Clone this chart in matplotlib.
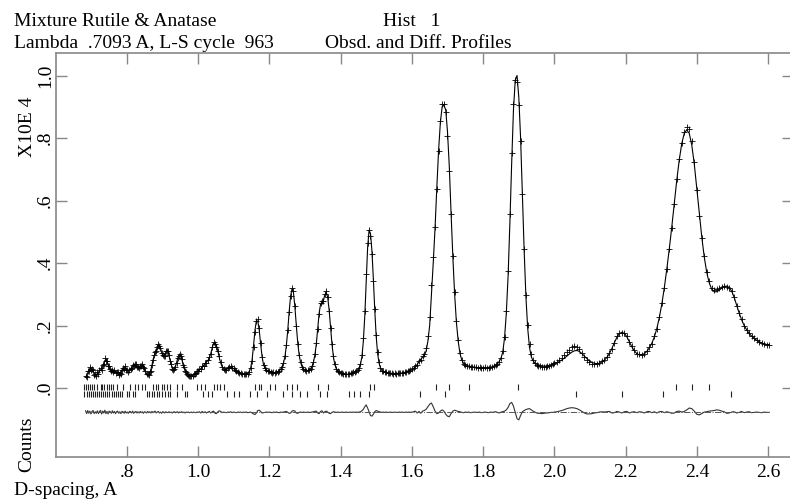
import numpy as np
import matplotlib
matplotlib.use("Agg")
import matplotlib.pyplot as plt
from matplotlib.ticker import FuncFormatter

plt.rcParams['font.family'] = ['Liberation Serif', 'DejaVu Serif']

# profile points, in four pieces (d-spacing, A)
d1 = [0.685, 0.688, 0.691, 0.694, 0.697, 0.700, 0.703, 0.706, 0.709, 0.712,
      0.715, 0.718, 0.721, 0.724, 0.727, 0.730, 0.733, 0.736, 0.739, 0.742,
      0.745, 0.748, 0.751, 0.754, 0.757, 0.760, 0.763, 0.766, 0.769, 0.772,
      0.775, 0.778, 0.781, 0.784, 0.787, 0.790, 0.793, 0.796, 0.799, 0.802,
      0.805, 0.808, 0.811, 0.814, 0.817, 0.820, 0.823, 0.826, 0.829, 0.832,
      0.835, 0.838, 0.841, 0.844, 0.847, 0.850, 0.853, 0.856, 0.859, 0.862,
      0.865, 0.868, 0.871, 0.874, 0.877, 0.880, 0.883, 0.886, 0.889, 0.892,
      0.895, 0.898, 0.901, 0.904, 0.907, 0.910, 0.913, 0.916, 0.919, 0.922,
      0.925, 0.928, 0.931, 0.934, 0.937, 0.940, 0.943, 0.946, 0.949, 0.952,
      0.955, 0.958, 0.961, 0.964, 0.967, 0.970, 0.973, 0.976, 0.979, 0.982,
      0.985, 0.988, 0.991, 0.994, 0.997, 1.000]
calc1 = [.035, .040, .049, .057, .062, .062, .058, .053, .047, .043,
         .042, .045, .049, .054, .058, .062, .069, .078, .088, .091,
         .085, .074, .066, .060, .056, .052, .054, .055, .053, .050,
         .048, .046, .046, .050, .056, .062, .065, .065, .061, .057,
         .055, .056, .060, .066, .070, .072, .075, .074, .068, .065,
         .065, .069, .073, .075, .070, .062, .053, .046, .042, .043,
         .048, .058, .072, .090, .103, .112, .122, .131, .138, .136,
         .128, .115, .105, .101, .106, .115, .120, .118, .104, .088,
         .075, .064, .058, .060, .068, .080, .094, .103, .107, .103,
         .092, .076, .065, .057, .050, .045, .042, .040, .038, .038,
         .040, .043, .046, .049, .052, .055]
diff1 = [.005, -.004, .006, -.003, .004, -.005, .003, .006, -.004, .002,
         -.003, .005, -.004, .003, .006, -.005, .004, -.002, .007, -.004,
         .003, -.005, .004, .002, -.003, .005, -.002, .003, -.004, .002,
         .004, -.003, .002, -.004, .003, .002, -.003, .004, -.002, .001,
         -.003, .003, .002, -.002, .004, -.003, .001, .003, -.002, .002,
         -.002, .003, -.001, .002, -.003, .002, .001, -.002, .003, -.001,
         .002, -.002, .003, -.001, .002, .004, -.002, .001, .003, -.002,
         .001, -.003, .002, .001, -.002, .002, .000, -.001, .002, -.001,
         .001, -.002, .001, .002, -.001, .001, .002, -.002, .001, .000,
         .002, -.001, .001, -.002, .001, .000, .001, -.001, .000, .001,
         -.001, .001, .000, -.001, .001, .000]

d2 = [1.004, 1.008, 1.012, 1.016, 1.020, 1.024, 1.028, 1.032, 1.036, 1.040,
      1.044, 1.048, 1.052, 1.056, 1.060, 1.064, 1.068, 1.072, 1.076, 1.080,
      1.084, 1.088, 1.092, 1.096, 1.100, 1.104, 1.108, 1.112, 1.116, 1.120,
      1.124, 1.128, 1.132, 1.136, 1.140, 1.144, 1.148, 1.152, 1.156, 1.160,
      1.164, 1.168, 1.172, 1.176, 1.180, 1.184, 1.188, 1.192, 1.196, 1.200,
      1.204, 1.208, 1.212, 1.216, 1.220, 1.224, 1.228, 1.232, 1.236, 1.240,
      1.244, 1.248, 1.252, 1.256, 1.260, 1.264, 1.268, 1.272, 1.276, 1.280,
      1.284, 1.288, 1.292, 1.296, 1.300, 1.304, 1.308, 1.312, 1.316, 1.320,
      1.324, 1.328, 1.332, 1.336, 1.340, 1.344, 1.348, 1.352, 1.356, 1.360,
      1.364, 1.368, 1.372, 1.376, 1.380, 1.384, 1.388, 1.392, 1.396, 1.400,
      1.404, 1.408, 1.412, 1.416, 1.420, 1.424, 1.428, 1.432, 1.436, 1.440,
      1.444, 1.448, 1.452, 1.456, 1.460, 1.464, 1.468, 1.472, 1.476, 1.480,
      1.484, 1.488, 1.492, 1.496, 1.500, 1.504, 1.508, 1.512, 1.516, 1.520,
      1.524, 1.528, 1.532, 1.536, 1.540, 1.544, 1.548, 1.552, 1.556, 1.560,
      1.564, 1.568, 1.572, 1.576, 1.580, 1.584, 1.588, 1.592, 1.596, 1.600]
calc2 = [.058, .062, .067, .073, .078, .083, .088, .096, .110, .128,
         .143, .145, .136, .118, .097, .080, .068, .061, .059, .060,
         .063, .066, .067, .066, .062, .058, .054, .051, .049, .047,
         .046, .045, .045, .045, .047, .052, .064, .090, .135, .185,
         .215, .214, .185, .140, .100, .075, .064, .058, .055, .053,
         .051, .050, .049, .049, .050, .052, .055, .060, .068, .080,
         .100, .135, .185, .245, .295, .317, .305, .260, .200, .145,
         .105, .082, .068, .061, .058, .056, .056, .058, .062, .069,
         .082, .105, .140, .190, .240, .268, .272, .280, .298, .305,
         .290, .250, .195, .140, .100, .075, .062, .055, .051, .048,
         .046, .045, .044, .044, .044, .045, .046, .047, .049, .051,
         .054, .058, .064, .076, .100, .150, .230, .340, .450, .505,
         .495, .440, .350, .250, .165, .110, .080, .064, .056, .052,
         .050, .049, .048, .047, .047, .047, .046, .046, .046, .047,
         .047, .048, .048, .049, .050, .051, .053, .055, .058, .061]
diff2 = [.002, -.002, .003, -.001, .002, -.002, .001, .003, -.002, .002,
         .004, -.003, -.004, .002, .005, .003, -.001, .001, .000, -.001,
         .001, .000, .002, -.001, .001, .000, -.001, .001, .000, .001,
         -.001, .001, .000, .001, -.001, .000, .001, -.002, -.005, -.007,
         -.002, .006, .007, .003, -.002, -.001, .000, .001, .000, .001,
         .000, -.001, .001, .000, .001, .000, -.001, .001, .000, .001,
         .002, .003, .000, -.003, -.002, .004, .006, .004, -.002, -.003,
         .000, .001, .000, .001, .000, .000, .001, .000, .000, .001,
         .002, .003, .004, -.002, -.004, .003, .005, -.002, .002, .004,
         .001, -.003, -.004, .000, .002, .001, .000, .001, .000, .000,
         .001, .000, .000, .001, .000, .000, .001, .000, .001, .000,
         .001, .000, .001, .002, .005, .010, .018, .024, .014, .002,
         -.010, -.012, -.006, .002, .006, .004, .002, .001, .000, .001,
         .000, .001, .000, .000, .001, .000, .000, .001, .000, .000,
         .001, .000, .001, .000, .000, .001, .000, .001, .000, .001]

d3 = [1.605, 1.610, 1.615, 1.620, 1.625, 1.630, 1.635, 1.640, 1.645, 1.650,
      1.655, 1.660, 1.665, 1.670, 1.675, 1.680, 1.685, 1.690, 1.695, 1.700,
      1.705, 1.710, 1.715, 1.720, 1.725, 1.730, 1.735, 1.740, 1.745, 1.750,
      1.755, 1.760, 1.765, 1.770, 1.775, 1.780, 1.785, 1.790, 1.795, 1.800,
      1.805, 1.810, 1.815, 1.820, 1.825, 1.830, 1.835, 1.840, 1.845, 1.850,
      1.855, 1.860, 1.865, 1.870, 1.875, 1.880, 1.885, 1.890, 1.895, 1.900,
      1.905, 1.910, 1.915, 1.920, 1.925, 1.930, 1.935, 1.940, 1.945, 1.950,
      1.955, 1.960, 1.965, 1.970, 1.975, 1.980, 1.985, 1.990, 1.995, 2.000]
calc3 = [.063, .068, .075, .084, .092, .098, .104, .118, .150, .200,
         .300, .400, .510, .640, .760, .850, .900, .905, .890, .820,
         .710, .560, .420, .300, .210, .150, .110, .090, .079, .072,
         .070, .070, .069, .068, .067, .066, .065, .065, .065, .065,
         .065, .065, .066, .066, .067, .069, .072, .077, .085, .095,
         .115, .160, .240, .360, .530, .720, .890, .985, 1.000, .930,
         .800, .620, .440, .290, .190, .130, .100, .087, .080, .076,
         .074, .072, .071, .070, .070, .071, .072, .074, .076, .079]
diff3 = [.002, .004, -.002, .003, -.003, .004, .006, .010, .018, .026,
         .030, .018, .004, -.004, -.002, .004, .008, .004, -.006, -.012,
         -.014, -.004, .004, .007, .005, .003, .002, .000, -.001, .001,
         .000, .001, -.001, .000, .001, .000, .000, .001, -.001, .000,
         .001, .000, -.001, .001, .000, .001, .002, .000, -.002, .001,
         .002, .004, .008, .016, .028, .032, .020, .000, -.020, -.024,
         -.010, .002, .006, .009, .011, .012, .008, .004, .001, -.002,
         -.003, -.003, -.004, -.003, -.002, -.002, -.001, .000, .000, .001]

d4 = [2.007, 2.014, 2.021, 2.028, 2.035, 2.042, 2.049, 2.056, 2.063, 2.070,
      2.077, 2.084, 2.091, 2.098, 2.105, 2.112, 2.119, 2.126, 2.133, 2.140,
      2.147, 2.154, 2.161, 2.168, 2.175, 2.182, 2.189, 2.196, 2.203, 2.210,
      2.217, 2.224, 2.231, 2.238, 2.245, 2.252, 2.259, 2.266, 2.273, 2.280,
      2.287, 2.294, 2.301, 2.308, 2.315, 2.322, 2.329, 2.336, 2.343, 2.350,
      2.357, 2.364, 2.371, 2.378, 2.385, 2.392, 2.399, 2.406, 2.413, 2.420,
      2.427, 2.434, 2.441, 2.448, 2.455, 2.462, 2.469, 2.476, 2.483, 2.490,
      2.497, 2.504, 2.511, 2.518, 2.525, 2.532, 2.539, 2.546, 2.553, 2.560,
      2.567, 2.574, 2.581, 2.588, 2.595, 2.602]
calc4 = [.081, .085, .090, .096, .102, .109, .115, .119, .120, .117,
         .110, .102, .094, .087, .082, .079, .078, .079, .083, .089,
         .098, .110, .126, .145, .162, .174, .178, .175, .164, .148,
         .132, .119, .110, .106, .106, .110, .117, .128, .143, .163,
         .190, .225, .268, .320, .380, .445, .515, .590, .665, .730,
         .782, .815, .826, .815, .778, .718, .640, .560, .485, .420,
         .370, .337, .316, .308, .308, .313, .320, .325, .326, .322,
         .310, .290, .265, .240, .218, .200, .186, .175, .166, .159,
         .153, .148, .144, .141, .139, .139]
diff4 = [.002, .004, .006, .009, .012, .014, .015, .014, .012, .008,
         .003, -.002, -.005, -.005, -.004, -.002, -.001, .001, .002, .001,
         .002, .003, -.002, -.001, .003, .001, -.002, .002, .003, -.002,
         .001, .002, -.001, .002, .001, -.002, .002, .003, -.001, .002,
         -.002, .002, .003, -.001, .002, .000, -.003, -.002, .003, .004,
         .001, .003, .008, .014, .012, .004, -.006, -.008, -.004, .001,
         .002, .004, .005, .006, .008, .007, .004, .002, -.003, -.002,
         .001, .002, -.002, .000, .003, -.001, .001, .002, -.001, .000,
         .001, .000, -.001, .001, .000, .000]

# reflection positions (d, A)
anatase_refl = [0.680, 0.686, 0.692, 0.697, 0.703, 0.709, 0.716, 0.727, 0.732,
                0.738, 0.744, 0.750, 0.756, 0.763, 0.774, 0.791, 0.810, 0.824,
                0.833, 0.842, 0.852, 0.875, 0.882, 0.889, 0.899, 0.906, 0.914,
                0.922, 0.941, 0.955, 0.997, 1.009, 1.020, 1.044, 1.053, 1.062,
                1.072, 1.161, 1.170, 1.177, 1.203, 1.217, 1.250, 1.264, 1.278,
                1.338, 1.366, 1.483, 1.493, 1.668, 1.703, 1.760, 1.897, 2.340,
                2.385, 2.433]
rutile_refl = [0.680, 0.688, 0.694, 0.700, 0.706, 0.712, 0.718, 0.722, 0.728,
               0.734, 0.740, 0.746, 0.752, 0.758, 0.764, 0.770, 0.776, 0.782,
               0.788, 0.800, 0.808, 0.818, 0.824, 0.856, 0.862, 0.870, 0.876,
               0.884, 0.892, 0.900, 0.908, 0.916, 0.922, 0.941, 0.964, 0.970,
               1.015, 1.029, 1.039, 1.081, 1.100, 1.114, 1.147, 1.165, 1.193,
               1.240, 1.264, 1.287, 1.306, 1.343, 1.362, 1.423, 1.437, 1.455,
               1.479, 1.624, 1.692, 2.059, 2.190, 2.305, 2.496]

diff_offset = -0.078
anatase_row = 0.002
rutile_row = -0.020

xticks = [0.8, 1.0, 1.2, 1.4, 1.6, 1.8, 2.0, 2.2, 2.4, 2.6]
yticks = [0.0, 0.2, 0.4, 0.6, 0.8, 1.0]


def strip_zero(v, pos):
    s = "%.1f" % v
    if s.startswith("0."):
        s = s[1:]
    return s


def main():
    d = np.array(d1 + d2 + d3 + d4)
    calc = np.array(calc1 + calc2 + calc3 + calc4)
    diff = np.array(diff1 + diff2 + diff3 + diff4)
    obs = calc + diff

    fig = plt.figure(figsize=(7.9, 5.01), dpi=100)
    ax = fig.add_axes([56 / 790, 44 / 501, 737 / 790, 404 / 501])

    ax.plot(d, calc, color="black", lw=0.8)
    ax.plot(d, obs, ls="none", marker="+", ms=5, mew=0.6, color="black")
    ax.plot(d, diff + diff_offset, color="#333333", lw=0.8)
    ax.plot([d[0], d[-1]], [diff_offset, diff_offset], color="#555555",
            lw=0.7, ls="-.")
    ax.plot(anatase_refl, [anatase_row] * len(anatase_refl), ls="none",
            marker="|", ms=5, mew=0.8, color="#222222")
    ax.plot(rutile_refl, [rutile_row] * len(rutile_refl), ls="none",
            marker="|", ms=5, mew=0.8, color="#222222")

    ax.set_xlim(0.602, 2.669)
    ax.set_ylim(-0.2208, 1.072)
    ax.set_xticks(xticks)
    ax.set_yticks(yticks)
    ax.xaxis.set_major_formatter(FuncFormatter(strip_zero))
    ax.yaxis.set_major_formatter(FuncFormatter(strip_zero))
    ax.tick_params(direction="in", length=8, width=1, color="#888888",
                   labelsize=14, top=True, right=True)
    ax.tick_params(axis="x", pad=5)
    ax.tick_params(axis="y", pad=1.5)
    for lab in ax.get_yticklabels():
        lab.set_rotation(90)
        lab.set_va("center")
    for sp in ax.spines.values():
        sp.set_color("#888888")
        sp.set_linewidth(1.2)

    fig.text(14 / 790, 1 - 26 / 501, "Mixture Rutile & Anatase", fontsize=14)
    fig.text(383 / 790, 1 - 26 / 501, "Hist   1", fontsize=14)
    fig.text(14 / 790, 1 - 48 / 501, "Lambda  .7093 A, L-S cycle  963",
             fontsize=14)
    fig.text(325 / 790, 1 - 48 / 501, "Obsd. and Diff. Profiles", fontsize=14)
    fig.text(27 / 790, 1 - 127 / 501, "X10E 4", fontsize=14, rotation=90,
             ha="center", va="center")
    fig.text(27 / 790, 1 - 444 / 501, "Counts", fontsize=14, rotation=90,
             ha="center", va="center")
    fig.text(14 / 790, 1 - 495 / 501, "D-spacing, A", fontsize=14)

    fig.savefig("out.png", dpi=100)


if __name__ == "__main__":
    main()
